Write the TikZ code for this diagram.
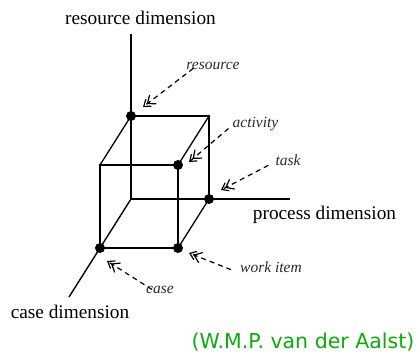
\documentclass[tikz,border=0pt]{standalone}
\usepackage{fontspec}
\setmainfont{Liberation Serif}
\newfontfamily\creditfont{DejaVu Sans}
\usetikzlibrary{arrows.meta}
\definecolor{creditgreen}{HTML}{0DAA0D}
\definecolor{itemgray}{HTML}{2A2A2A}

\tikzset{
  axisline/.style={line width=1.4pt},
  cubeedge/.style={line width=1.3pt},
  cubedot/.style={circle, fill=black, inner sep=0pt, minimum size=10pt},
  dimlabel/.style={font=\fontsize{19.3}{22}\selectfont, anchor=base, inner sep=0pt},
  itemlabel/.style={font=\itshape\fontsize{15.5}{18}\selectfont, anchor=base,
                    inner sep=0pt, text=itemgray},
  pointer/.style={dash pattern=on 5pt off 4pt, line width=1.2pt, color=black,
                  -{Straight Barb[length=7pt,width=11pt,sep=-3pt]Straight Barb[length=6pt,width=9pt]}}
}

\begin{document}
\begin{tikzpicture}[x=1pt,y=-1pt]
  \useasboundingbox (0,0) rectangle (420,358);
  % axes
  \coordinate (origin) at (131,199);
  \coordinate (resend) at (131,34);
  \coordinate (procend) at (290,199);
  \coordinate (caseend) at (69,297);
  \draw[axisline] (origin) -- (resend);
  \draw[axisline] (origin) -- (procend);
  \draw[axisline] (origin) -- (caseend);
  % cube corners
  \coordinate (rescorner) at (131,116);
  \coordinate (backtr) at (209,116);
  \coordinate (taskcorner) at (209,199);
  \coordinate (fronttl) at (100,165);
  \coordinate (actcorner) at (178,165);
  \coordinate (workcorner) at (178,248);
  \coordinate (casecorner) at (100,248);
  \draw[cubeedge] (rescorner) -- (backtr) -- (taskcorner);
  \draw[cubeedge] (fronttl) -- (actcorner) -- (workcorner) -- (casecorner) -- cycle;
  \draw[cubeedge] (rescorner) -- (fronttl);
  \draw[cubeedge] (backtr) -- (actcorner);
  \draw[cubeedge] (taskcorner) -- (workcorner);
  % dots
  \node[cubedot] (res) at (rescorner) {};
  \node[cubedot] (act) at (actcorner) {};
  \node[cubedot] (task) at (taskcorner) {};
  \node[cubedot] (work) at (workcorner) {};
  \node[cubedot] (case) at (casecorner) {};
  % dimension labels
  \node[dimlabel] (lresdim) at (140.5,25) {resource dimension};
  \node[dimlabel] (lprocdim) at (324.5,219) {process dimension};
  \node[dimlabel] (lcasedim) at (70,318) {case dimension};
  % item labels
  \node[itemlabel] (lres) at (213,70) {resource};
  \node[itemlabel] (lact) at (255.5,128) {activity};
  \node[itemlabel] (ltask) at (288,166) {task};
  \node[itemlabel] (lwork) at (271,272) {work item};
  \node[itemlabel] (lcase) at (160,293) {case};
  % arrow tips
  \coordinate (restip) at (143,107);
  \coordinate (acttip) at (189,162);
  \coordinate (tasktip) at (221,190);
  \coordinate (worktip) at (189,253);
  \coordinate (casetip) at (107,261);
  \draw[pointer] ([xshift=7pt,yshift=2pt]lres.south west) -- (restip);
  \draw[pointer] ([xshift=-4pt,yshift=3pt]lact.south west) -- (acttip);
  \draw[pointer] ([xshift=-7pt,yshift=1pt]ltask.south west) -- (tasktip);
  \draw[pointer] ([xshift=-9pt,yshift=-3pt]lwork.west) -- (worktip);
  \draw[pointer] ([xshift=6pt,yshift=-4pt]lcase.north west) -- (casetip);
  % credit
  \node[font=\creditfont\fontsize{20.5}{24}\selectfont, text=creditgreen,
        anchor=base, inner sep=0pt] (credit) at (303,348) {(W.M.P. van der Aalst)};
\end{tikzpicture}
\end{document}
